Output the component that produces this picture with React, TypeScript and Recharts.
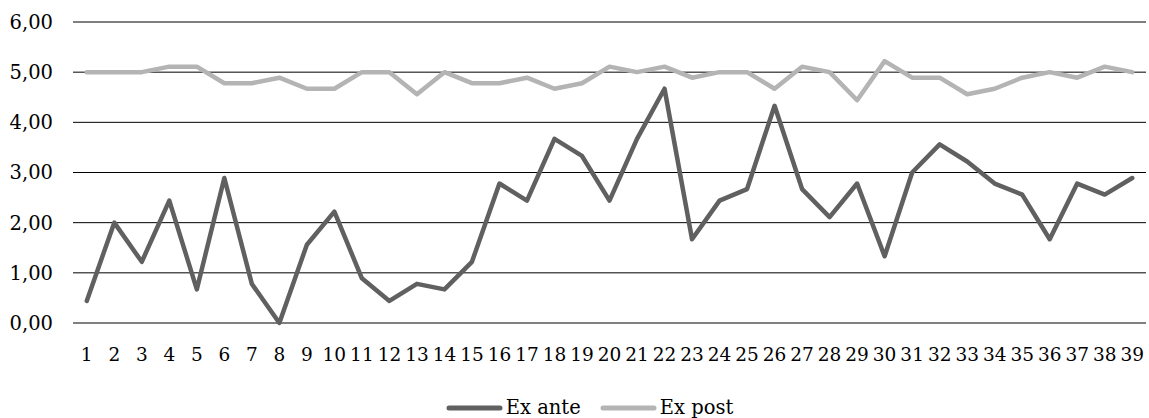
import {
  CartesianGrid,
  Legend,
  Line,
  LineChart,
  XAxis,
  YAxis,
} from 'recharts'

const periods = [
  '1', '2', '3', '4', '5', '6', '7', '8', '9', '10',
  '11', '12', '13', '14', '15', '16', '17', '18', '19', '20',
  '21', '22', '23', '24', '25', '26', '27', '28', '29', '30',
  '31', '32', '33', '34', '35', '36', '37', '38', '39',
]

const exAnte = [
  0.44, 2.0, 1.22, 2.44, 0.67, 2.89, 0.78, 0.0, 1.56, 2.22,
  0.89, 0.44, 0.78, 0.67, 1.22, 2.78, 2.44, 3.67, 3.33, 2.44,
  3.67, 4.67, 1.67, 2.44, 2.67, 4.33, 2.67, 2.11, 2.78, 1.33,
  3.0, 3.56, 3.22, 2.78, 2.56, 1.67, 2.78, 2.56, 2.89,
]

const exPost = [
  5.0, 5.0, 5.0, 5.11, 5.11, 4.78, 4.78, 4.89, 4.67, 4.67,
  5.0, 5.0, 4.56, 5.0, 4.78, 4.78, 4.89, 4.67, 4.78, 5.11,
  5.0, 5.11, 4.89, 5.0, 5.0, 4.67, 5.11, 5.0, 4.44, 5.22,
  4.89, 4.89, 4.56, 4.67, 4.89, 5.0, 4.89, 5.11, 5.0,
]

const yTicks = [0, 1, 2, 3, 4, 5, 6]

const seriesLabels = { exAnte: 'Ex ante', exPost: 'Ex post' }

const data = periods.map((p, i) => ({
  period: p,
  exAnte: exAnte[i],
  exPost: exPost[i],
}))

const FONT = '"DejaVu Serif", serif'
const TEXT = '#000'
const DARK = '#606060'
const LIGHT = '#b4b4b4'

function ChartLegend() {
  const items = [
    { label: seriesLabels.exAnte, color: DARK },
    { label: seriesLabels.exPost, color: LIGHT },
  ]
  return (
    <div
      style={{
        display: 'flex',
        justifyContent: 'center',
        alignItems: 'center',
        height: 22,
        paddingLeft: 30,
        fontFamily: FONT,
        fontSize: 19.5,
        color: TEXT,
      }}
    >
      {items.map((it, idx) => (
        <div
          key={it.label}
          style={{
            display: 'flex',
            alignItems: 'center',
            marginLeft: idx === 0 ? 0 : 19,
          }}
        >
          <svg width={57} height={8} style={{ display: 'block' }}>
            <line
              x1={3}
              y1={4}
              x2={54}
              y2={4}
              stroke={it.color}
              strokeWidth={5}
              strokeLinecap="round"
            />
          </svg>
          <span style={{ marginLeft: 3, lineHeight: '22px' }}>{it.label}</span>
        </div>
      ))}
    </div>
  )
}

export default function App() {
  return (
    <div style={{ position: 'absolute', left: 0, top: 0, background: '#fff' }}>
      <LineChart
        width={1149}
        height={418}
        data={data}
        margin={{ top: 22, right: 3, bottom: 33, left: 0 }}
        style={{ fontFamily: FONT }}
      >
        <CartesianGrid vertical={false} stroke="#000" strokeWidth={1} />
        <XAxis
          dataKey="period"
          axisLine={false}
          tickLine={false}
          tickSize={0}
          tickMargin={25}
          height={40}
          interval={0}
          padding={{ left: 13.76, right: 13.76 }}
          tick={{ fill: TEXT, fontSize: 18.5, fontFamily: FONT }}
        />
        <YAxis
          domain={[0, 6]}
          ticks={yTicks}
          width={73}
          axisLine={false}
          tickLine={false}
          tickSize={0}
          tickMargin={20}
          tick={{ fill: TEXT, fontSize: 19.5, fontFamily: FONT }}
          tickFormatter={(v: number) => v.toFixed(2).replace('.', ',')}
        />
        <Legend
          verticalAlign="bottom"
          content={() => <ChartLegend />}
          wrapperStyle={{ left: 0, width: 1149, top: 397 }}
        />
        <Line
          type="linear"
          dataKey="exAnte"
          name={seriesLabels.exAnte}
          stroke={DARK}
          strokeWidth={4.5}
          strokeLinejoin="round"
          strokeLinecap="round"
          dot={false}
          activeDot={false}
          isAnimationActive={false}
        />
        <Line
          type="linear"
          dataKey="exPost"
          name={seriesLabels.exPost}
          stroke={LIGHT}
          strokeWidth={4.5}
          strokeLinejoin="round"
          strokeLinecap="round"
          dot={false}
          activeDot={false}
          isAnimationActive={false}
        />
      </LineChart>
    </div>
  )
}
